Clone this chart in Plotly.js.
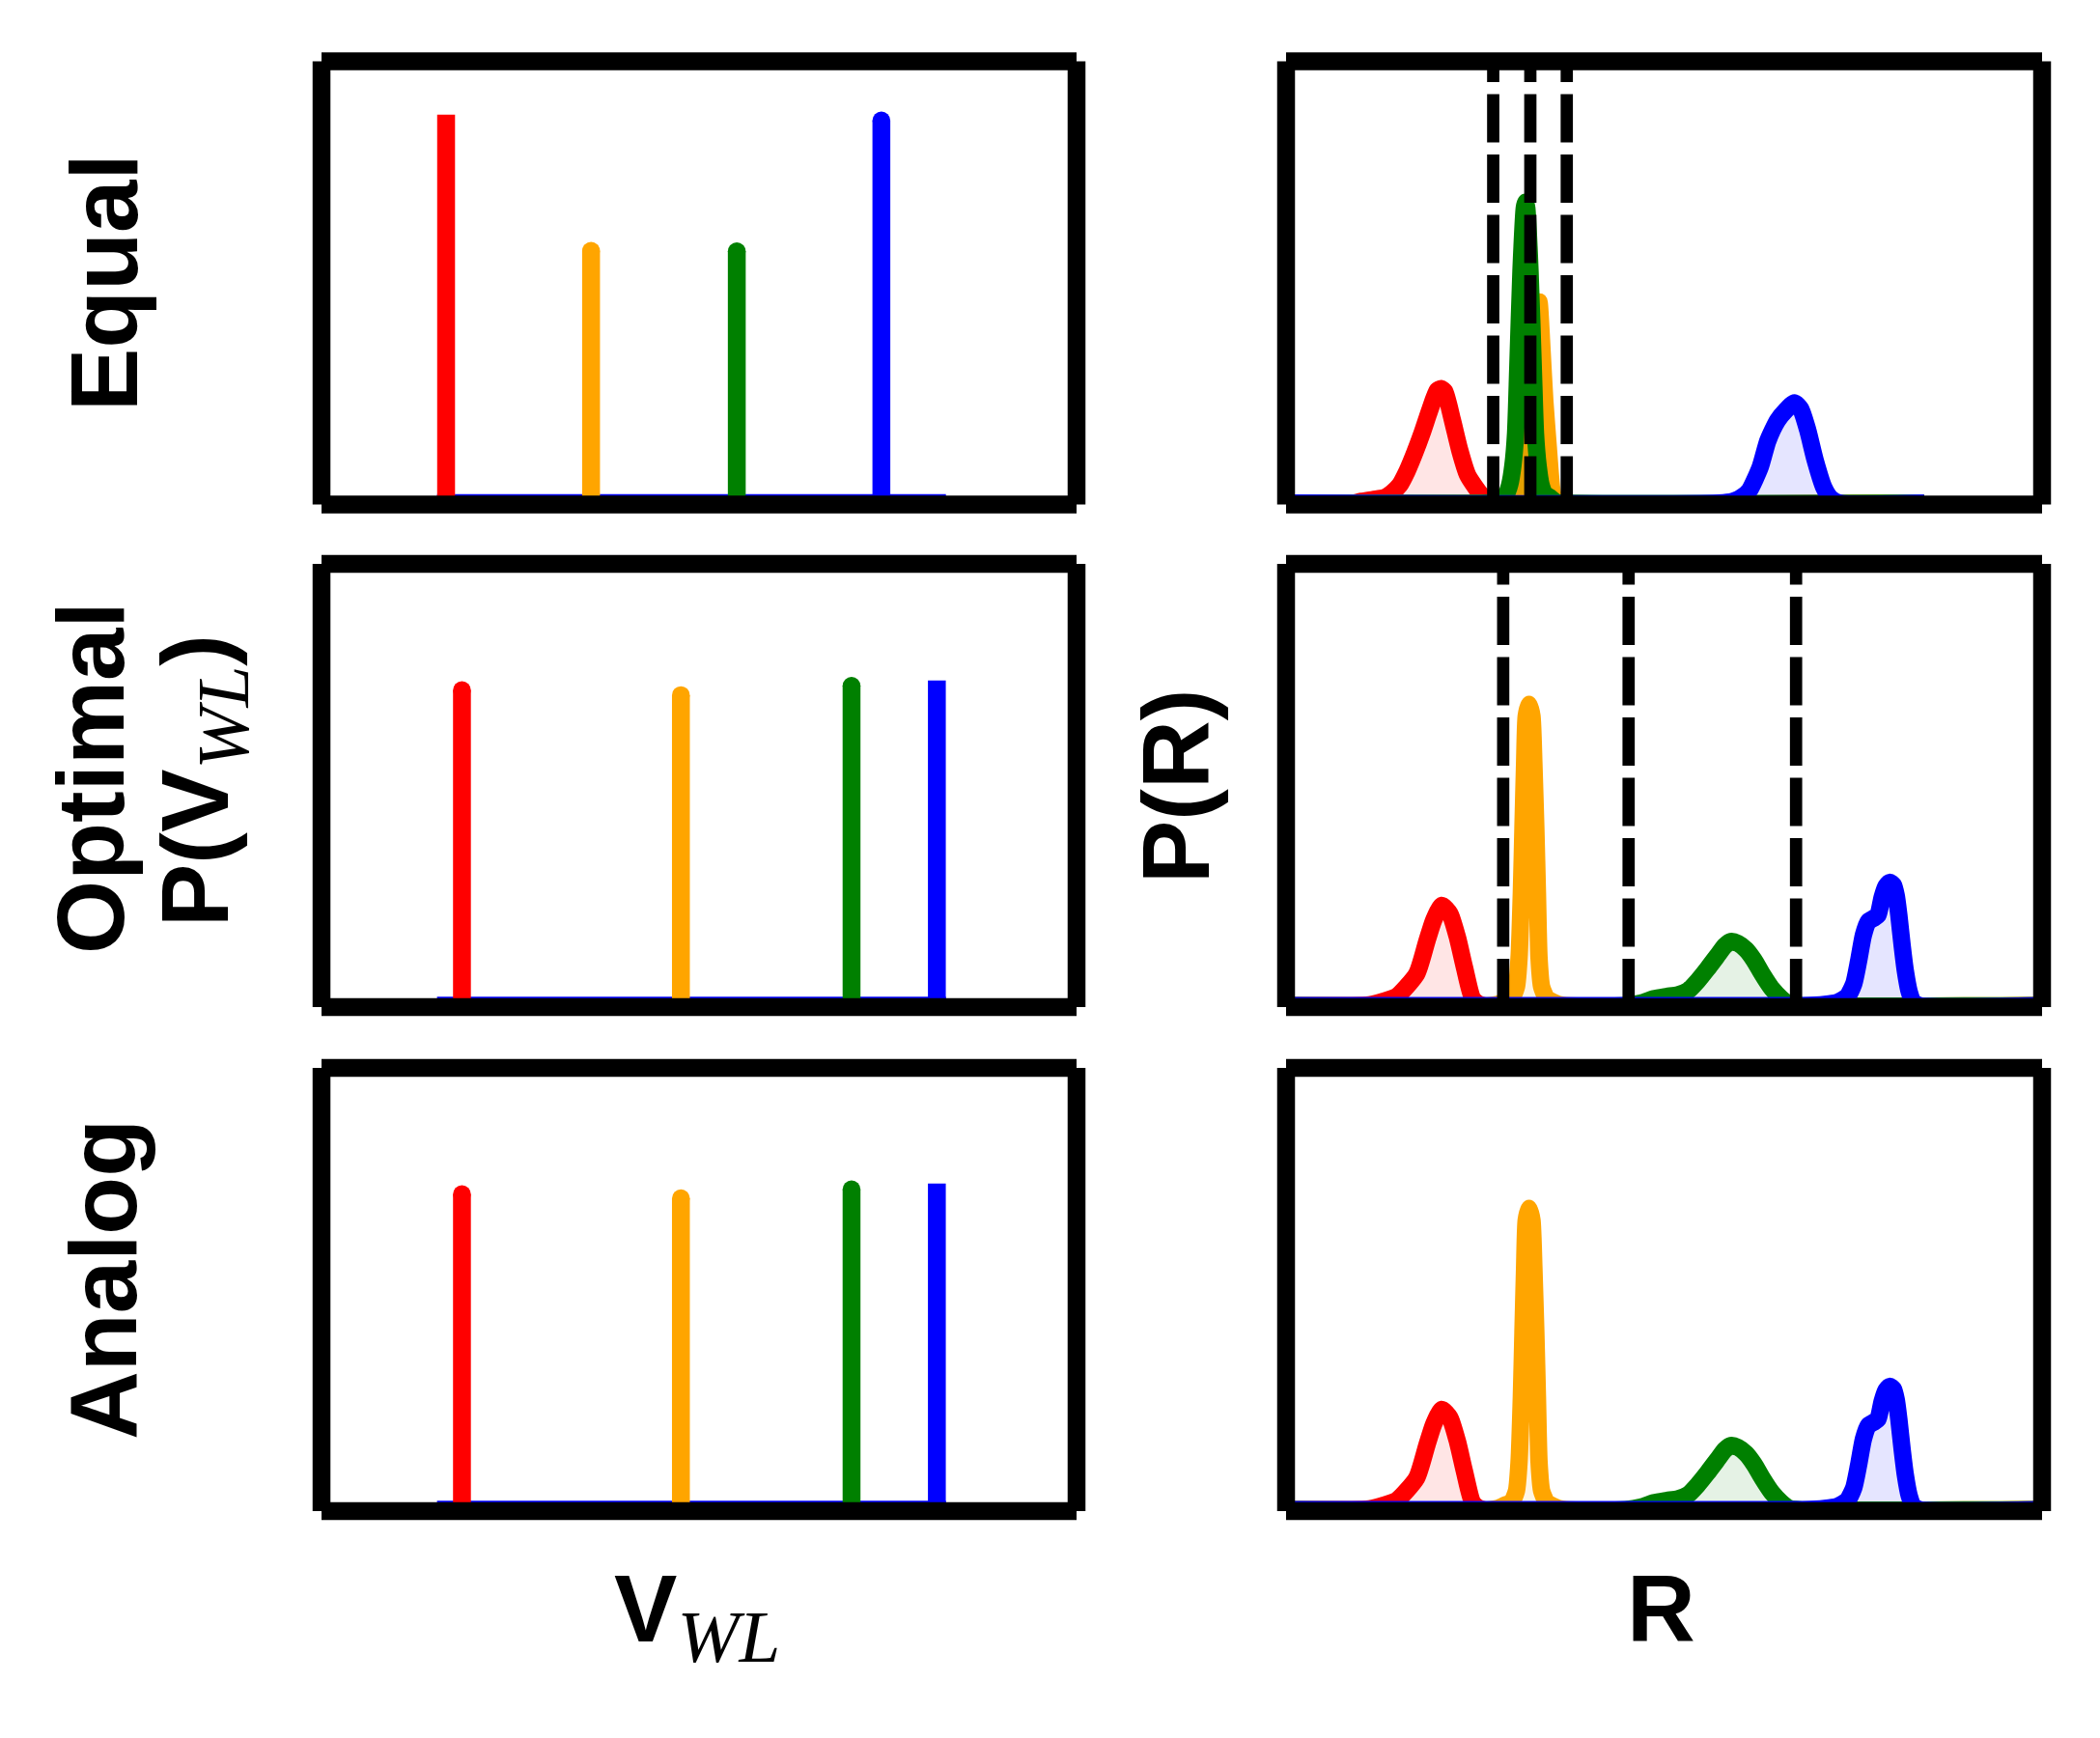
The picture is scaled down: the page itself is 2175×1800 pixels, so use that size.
<!DOCTYPE html>
<html>
<head>
<meta charset="utf-8">
<script src="https://cdn.plot.ly/plotly-3.0.1.min.js"></script>
<style>
html,body{margin:0;padding:0;background:#ffffff;}
#chart{width:2175px;height:1800px;}
.scatterlayer .js-line{stroke-linejoin:round;}
</style>
</head>
<body>
<div id="chart"></div>
<script>
// ================= DATA =================
const levelColors = ['#FF0000', '#FFA500', '#008000', '#0000FF'];
const levelFills  = ['rgba(255,0,0,0.1)', 'rgba(255,165,0,0.1)', 'rgba(0,128,0,0.1)', 'rgba(0,0,255,0.1)'];

// Left column: word-line voltage of each level (normalised axis units) and P(V_WL)
const vwlEqual    = [0.165, 0.357, 0.550, 0.7415];
const pVwlEqual   = [0.879, 0.571, 0.570, 0.866];
const vwlOptimal  = [0.186, 0.476, 0.702, 0.815];
const pVwlOptimal = [0.714, 0.703, 0.724, 0.736];
const vwlAnalog   = [0.186, 0.476, 0.702, 0.815];
const pVwlAnalog  = [0.714, 0.705, 0.725, 0.738];
const vwlBaseline = [0.153, 0.827];

// Right column: P(R) densities per level (normalised R axis)
// Equal
const eqRedX = [0, 0.09, 0.10, 0.115, 0.13, 0.14, 0.15, 0.16, 0.17, 0.18, 0.19, 0.20, 0.205, 0.21, 0.22, 0.23, 0.24, 0.25, 0.26, 0.27, 0.28, 0.844];
const eqRedY = [0, 0, 0.004, 0.008, 0.012, 0.023, 0.040, 0.072, 0.113, 0.159, 0.210, 0.2545, 0.259, 0.252, 0.188, 0.118, 0.064, 0.037, 0.015, 0.004, 0, 0];
const eqOrangeX = [0, 0.29, 0.304, 0.3142, 0.3167, 0.3206, 0.3257, 0.3295, 0.3346, 0.3387, 0.3422, 0.3470, 0.3512, 0.3538, 0.3602, 0.3678, 0.844];
const eqOrangeY = [0, 0, 0.002, 0.011, 0.035, 0.123, 0.233, 0.342, 0.455, 0.342, 0.233, 0.123, 0.035, 0.015, 0.004, 0, 0];
const eqGreenX = [0, 0.265, 0.2759, 0.2861, 0.2912, 0.2959, 0.3001, 0.3036, 0.3065, 0.3107, 0.3151, 0.3167, 0.3184, 0.3227, 0.3270, 0.3299, 0.3333, 0.3372, 0.3423, 0.3487, 0.3576, 0.37, 0.844];
const eqGreenY = [0, 0, 0.002, 0.013, 0.020, 0.042, 0.086, 0.158, 0.305, 0.525, 0.668, 0.681, 0.668, 0.525, 0.305, 0.158, 0.086, 0.042, 0.020, 0.013, 0.002, 0, 0];
const eqBlueX = [0, 0.5722, 0.5913, 0.6041, 0.6130, 0.6271, 0.6373, 0.6501, 0.6616, 0.6725, 0.6807, 0.6897, 0.6999, 0.7114, 0.7203, 0.7318, 0.844];
const eqBlueY = [0, 0, 0.004, 0.015, 0.029, 0.081, 0.141, 0.187, 0.211, 0.227, 0.213, 0.167, 0.097, 0.035, 0.011, 0, 0];
const thresholdsEqual = [0.2740, 0.3231, 0.3713];

// Optimal
const opRedX = [0, 0.11, 0.1294, 0.1465, 0.1728, 0.1861, 0.1954, 0.206, 0.2167, 0.2269, 0.2359, 0.2474, 0.26, 1];
const opRedY = [0, 0.002, 0.010, 0.021, 0.072, 0.145, 0.194, 0.227, 0.208, 0.153, 0.087, 0.014, 0, 0];
const opOrangeX = [0, 0.27, 0.28, 0.2891, 0.2984, 0.3048, 0.3082, 0.3112, 0.3133, 0.3155, 0.3176, 0.3214, 0.3253, 0.3278, 0.3304, 0.3325, 0.3346, 0.3380, 0.3444, 0.3508, 0.36, 0.37, 1];
const opOrangeY = [0, 0, 0.003, 0.010, 0.017, 0.043, 0.109, 0.255, 0.401, 0.548, 0.655, 0.682, 0.655, 0.548, 0.401, 0.255, 0.109, 0.043, 0.017, 0.010, 0.003, 0, 0];
const opGreenX = [0, 0.4487, 0.4700, 0.4870, 0.5043, 0.5189, 0.5317, 0.5444, 0.5572, 0.5700, 0.5807, 0.5883, 0.5977, 0.6083, 0.6190, 0.6296, 0.6424, 0.6552, 0.6658, 0.6786, 1];
const opGreenY = [0, 0, 0.006, 0.016, 0.021, 0.025, 0.034, 0.056, 0.083, 0.112, 0.136, 0.145, 0.141, 0.127, 0.103, 0.072, 0.039, 0.016, 0.003, 0, 0];
const opBlueX = [0, 0.6828, 0.7126, 0.7297, 0.7424, 0.7510, 0.7573, 0.7637, 0.7701, 0.7765, 0.7829, 0.7884, 0.7935, 0.7986, 0.8033, 0.8071, 0.8106, 0.8148, 0.8191, 0.8242, 0.8297, 0.8382, 1];
const opBlueY = [0, 0, 0.003, 0.008, 0.021, 0.050, 0.101, 0.160, 0.190, 0.197, 0.205, 0.245, 0.270, 0.279, 0.273, 0.249, 0.204, 0.138, 0.079, 0.032, 0.008, 0, 0];
const thresholdsOptimal = [0.2872, 0.4531, 0.6746];

// Analog (read identical to Optimal)
const anRedX = opRedX, anRedY = opRedY;
const anOrangeX = opOrangeX, anOrangeY = opOrangeY;
const anGreenX = opGreenX, anGreenY = opGreenY;
const anBlueX = opBlueX, anBlueY = opBlueY;

// ================= LAYOUT / DRAWING =================
const W = 2175, H = 1800;
const fx = p => p / W;
const fy = p => 1 - p / H;
const colDomains = [[fx(333), fx(1115)], [fx(1332), fx(2115)]];
const rowBoxes = [[63.5, 522.5], [584, 1043], [1106, 1565]];
const SPINE_W = 18.5, STEM_W = 18.5, CURVE_W = 18, DASH_W = 12.7;

const stemRows = [
  {v: vwlEqual, p: pVwlEqual, squareIdx: 0},
  {v: vwlOptimal, p: pVwlOptimal, squareIdx: 3},
  {v: vwlAnalog, p: pVwlAnalog, squareIdx: 3}
];
const curveRows = [
  {xs: [eqRedX, eqOrangeX, eqGreenX, eqBlueX], ys: [eqRedY, eqOrangeY, eqGreenY, eqBlueY], thr: thresholdsEqual},
  {xs: [opRedX, opOrangeX, opGreenX, opBlueX], ys: [opRedY, opOrangeY, opGreenY, opBlueY], thr: thresholdsOptimal},
  {xs: [anRedX, anOrangeX, anGreenX, anBlueX], ys: [anRedY, anOrangeY, anGreenY, anBlueY], thr: []}
];

const traces = [];
const shapes = [];
const layout = {
  width: W, height: H, autosize: false,
  margin: {l: 0, r: 0, t: 0, b: 0, pad: 0},
  paper_bgcolor: '#ffffff', plot_bgcolor: '#ffffff',
  showlegend: false,
  font: {family: 'Liberation Sans, Arial, sans-serif', color: '#000'}
};

for (let r = 0; r < 3; r++) {
  for (let c = 0; c < 2; c++) {
    const n = r * 2 + c + 1;
    const s = n === 1 ? '' : String(n);
    const yr = [-1.5 / 457.5, 1];
    layout['xaxis' + s] = {domain: colDomains[c], range: [0, 1], anchor: 'y' + s, visible: false, fixedrange: true};
    layout['yaxis' + s] = {domain: [fy(rowBoxes[r][1]), fy(rowBoxes[r][0])], range: yr, anchor: 'x' + s, visible: false, fixedrange: true};
    const xa = 'x' + s, ya = 'y' + s;

    if (c === 0) {
      const row = stemRows[r];
      traces.push({type: 'scatter', mode: 'lines', x: vwlBaseline, y: [0, 0], xaxis: xa, yaxis: ya,
        line: {color: levelColors[3], width: STEM_W}, hoverinfo: 'skip'});
      for (let k = 0; k < 4; k++) {
        traces.push({type: 'scatter', mode: 'lines',
          x: [row.v[k], row.v[k]], y: [0, row.p[k]], xaxis: xa, yaxis: ya,
          line: {color: levelColors[k], width: STEM_W}, hoverinfo: 'skip'});
        if (k !== row.squareIdx) {
          // rounded cap at the top of the stem
          traces.push({type: 'scatter', mode: 'markers', x: [row.v[k]], y: [row.p[k]], xaxis: xa, yaxis: ya,
            marker: {color: levelColors[k], size: STEM_W, opacity: 1, symbol: 'circle', line: {width: 0}},
            cliponaxis: false, hoverinfo: 'skip'});
        }
      }
    } else {
      const row = curveRows[r];
      for (let k = 0; k < 4; k++) {
        traces.push({type: 'scatter', mode: 'lines', x: row.xs[k], y: row.ys[k], xaxis: xa, yaxis: ya,
          line: {color: levelColors[k], width: CURVE_W, shape: 'spline', smoothing: 0.6},
          fill: 'tozeroy', fillcolor: levelFills[k], hoverinfo: 'skip'});
      }
      row.thr.forEach(t => {
        shapes.push({type: 'line', layer: 'above', xref: xa, yref: ya + ' domain', x0: t, x1: t, y0: 0, y1: 1,
          line: {color: '#000', width: DASH_W, dash: '50px,12.5px'}});
      });
    }
    // frame (four separate butt-capped spines)
    const xd = xa + ' domain', yd = ya + ' domain';
    [[0, 0, 1, 0], [0, 1, 1, 1], [0, 0, 0, 1], [1, 0, 1, 1]].forEach(([x0, y0, x1, y1]) => {
      shapes.push({type: 'line', layer: 'above', xref: xd, yref: yd, x0, y0, x1, y1,
        line: {color: '#000', width: SPINE_W}});
    });
  }
}
layout.shapes = shapes;

const LF = {family: 'Liberation Sans, Arial, sans-serif', size: 98, color: '#000', weight: 'bold'};
const sub = t => '<sub><span style="font-family:Liberation Serif;font-style:italic;font-weight:normal;font-size:77px">' + t + '</span></sub>';
function rotLabel(text, xpx, ypx) {
  return {text, x: fx(xpx), y: fy(ypx), xref: 'paper', yref: 'paper', showarrow: false,
    textangle: -90, xanchor: 'center', yanchor: 'middle', font: LF, borderpad: 0};
}
layout.annotations = [
  rotLabel('Equal', 108, 293),
  rotLabel('Optimal', 94, 806),
  rotLabel('P(V' + sub('WL') + ')', 210, 809),
  rotLabel('Analog', 107, 1325),
  rotLabel('P(R)', 1218, 815),
  {text: 'V' + sub('WL'), x: fx(722), y: fy(1610), xref: 'paper', yref: 'paper', showarrow: false,
   xanchor: 'center', yanchor: 'top', font: LF, borderpad: 0},
  {text: 'R', x: fx(1720), y: fy(1610), xref: 'paper', yref: 'paper', showarrow: false,
   xanchor: 'center', yanchor: 'top', font: LF, borderpad: 0}
];

Plotly.newPlot('chart', traces, layout, {staticPlot: true, displayModeBar: false});
</script>
</body>
</html>
